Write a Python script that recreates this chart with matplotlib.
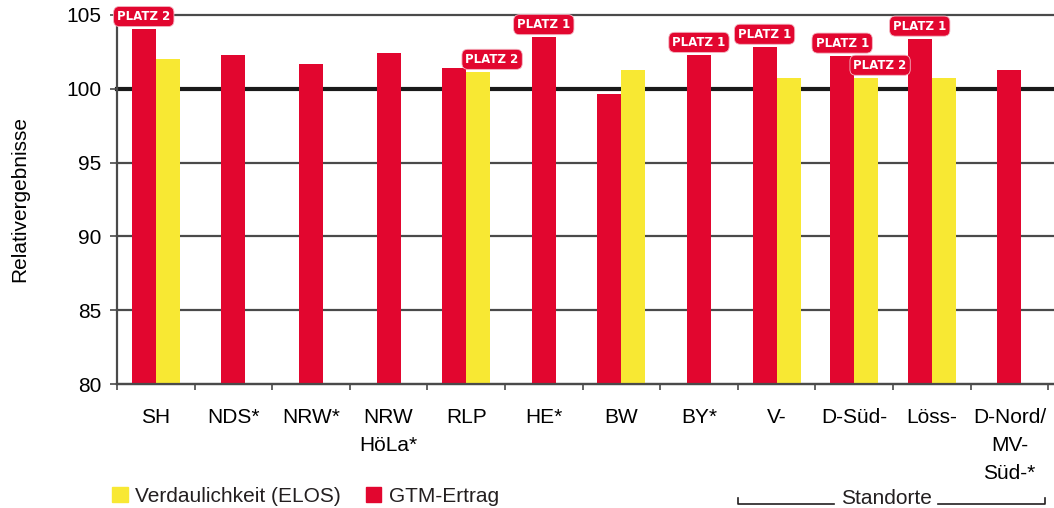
import numpy as np
import matplotlib
matplotlib.use('Agg')
import matplotlib.pyplot as plt
from matplotlib.patches import Patch
from matplotlib.lines import Line2D
from matplotlib.transforms import blended_transform_factory

# Data
categories = ['SH', 'NDS*', 'NRW*', 'NRW\nHöLa*', 'RLP', 'HE*', 'BW', 'BY*',
              'V-', 'D-Süd-', 'Löss-', 'D-Nord/\nMV-\nSüd-*']
gtm = [104.05, 102.3, 101.7, 102.45, 101.4, 103.5, 99.65, 102.3,
       102.85, 102.25, 103.4, 101.3]
elos = [102.05, np.nan, np.nan, np.nan, 101.15, np.nan, 101.3, np.nan,
        100.75, 100.75, 100.75, np.nan]
gtm_badge = ['PLATZ 2', '', '', '', '', 'PLATZ 1', '', 'PLATZ 1',
             'PLATZ 1', 'PLATZ 1', 'PLATZ 1', '']
elos_badge = ['', '', '', '', 'PLATZ 2', '', '', '', '', 'PLATZ 2', '', '']
yticks = [80, 85, 90, 95, 100, 105]

red = '#E2062F'
yellow = '#F8E833'
grey = '#4a4a4a'
txt = '#231f20'

plt.rcParams['font.family'] = ['Liberation Sans', 'DejaVu Sans']
plt.rcParams['font.size'] = 15
plt.rcParams['text.color'] = txt

fig = plt.figure(figsize=(10.54, 5.08), dpi=100)
ax = fig.add_axes([117 / 1054, 124 / 508, 937 / 1054, 369 / 508])

x = np.arange(len(categories))
w = 0.31
has_elos = ~np.isnan(np.array(elos))
red_x = np.where(has_elos, x - w / 2, x)
ax.bar(red_x, np.array(gtm) - 80, w, bottom=80, color=red, zorder=2)
ax.bar(x[has_elos] + w / 2, np.array(elos)[has_elos] - 80, w, bottom=80,
       color=yellow, zorder=2)

# gridlines
for yv in yticks:
    if yv == 100:
        ax.axhline(yv, color='#1a1a1a', lw=3, zorder=1, clip_on=False)
    else:
        ax.axhline(yv, color=grey, lw=1.6, zorder=1, clip_on=False)

# badges
def badge(xp, yp, label, dx=0):
    ax.annotate(label, (xp, yp), xytext=(dx, 9), textcoords='offset points',
                ha='center', va='center', color='white', fontsize=8.5,
                fontweight='bold', family=['Liberation Sans Narrow', 'DejaVu Sans'],
                annotation_clip=False, zorder=5,
                bbox=dict(boxstyle='round,pad=0.3,rounding_size=0.5',
                          fc=red, ec='#f4b6c2', lw=0.6))

for i in range(len(categories)):
    if gtm_badge[i]:
        badge(red_x[i], gtm[i], gtm_badge[i])
    if elos_badge[i]:
        badge(x[i] + w / 2, elos[i], elos_badge[i], dx=10)

ax.set_ylim(80, 105)
ax.set_xlim(-0.5, 11.575)
ax.set_yticks(yticks)
ax.set_xticks(x)
ax.set_xticklabels(categories, linespacing=1.6)
ax.set_xticks(np.arange(-0.5, 12, 1), minor=True)
ax.tick_params(axis='x', which='major', length=0, pad=17)
ax.tick_params(axis='x', which='minor', length=4, width=1.2, color=grey)
ax.tick_params(axis='y', length=5, width=1.2, color=grey, pad=6)
for s in ['top', 'right']:
    ax.spines[s].set_visible(False)
for s in ['left', 'bottom']:
    ax.spines[s].set_color(grey)
    ax.spines[s].set_linewidth(1.6)
ax.set_ylabel('Relativergebnisse', labelpad=27)

# legend
handles = [Patch(color=yellow, label='Verdaulichkeit (ELOS)'),
           Patch(color=red, label='GTM-Ertrag')]
fig.legend(handles=handles, loc='center left', bbox_to_anchor=(112 / 1054, 12 / 508),
           ncol=2, frameon=False, handlelength=0.75, handleheight=0.75,
           handletextpad=0.35, columnspacing=1.2, borderpad=0, borderaxespad=0)

# Standorte bracket
tr = blended_transform_factory(ax.transData, fig.transFigure)
yb, yt = 4 / 508, 10 / 508
fig.add_artist(Line2D([7.5, 7.5, 8.74], [yt, yb, yb], transform=tr, color=txt, lw=1.2))
fig.add_artist(Line2D([10.08, 11.46, 11.46], [yb, yb, yt], transform=tr, color=txt, lw=1.2))
fig.text(9.41, 10 / 508, 'Standorte', transform=tr, ha='center', va='center')

fig.savefig('out.png', dpi=100)
